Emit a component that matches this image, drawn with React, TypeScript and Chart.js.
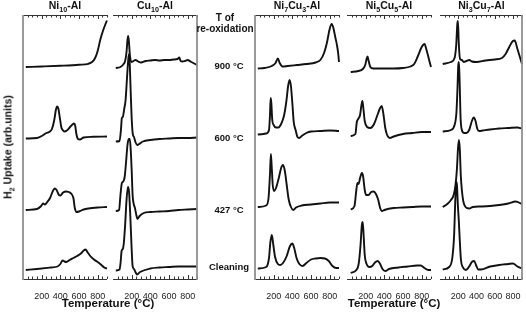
import React, { useEffect, useRef } from "react";
import { Chart, registerables } from "chart.js";
Chart.register(...registerables);

type Pt = [number, number];

// ---- axis / labels ----
const TEMP_LABELS = [200, 400, 600, 800];
const X_MIN = 0;
const X_MAX = 900;
const TICK_STEP = 50;
const ROW_LABELS = ["900 °C", "600 °C", "427 °C", "Cleaning"];
// vertical stacking offsets of the four rows (arb. units)
const ROW_OFFSETS = [21.2, 14.1, 6.9, 0.9];
const Y_MAX = 26.4;

// ---- Ni10-Al ----
const ni10_900: Pt[] = [[30,0],[200,0.05],[400,0.12],[600,0.22],[700,0.32],[740,0.5],[770,0.85],[800,1.6],[830,2.8],[860,3.7],[880,4.2],[900,4.65]];
const ni10_600: Pt[] = [[30,-0.05],[150,0.0],[210,0.25],[250,0.5],[280,0.6],[310,0.9],[335,1.8],[352,2.8],[366,3.15],[380,2.9],[395,2.0],[410,1.1],[425,0.8],[445,0.65],[470,0.75],[500,1.05],[530,1.35],[548,1.45],[560,1.2],[572,0.4],[590,-0.1],[610,-0.15],[650,0.05],[750,0.12],[900,0.15]];
const ni10_427: Pt[] = [[30,0],[150,0.1],[195,0.4],[215,0.65],[235,0.55],[260,0.8],[290,1.2],[320,1.9],[340,2.15],[360,2.0],[385,1.5],[400,1.45],[430,1.75],[460,1.85],[490,1.8],[520,1.6],[540,1.2],[555,0.2],[575,-0.2],[600,-0.15],[650,0.05],[700,0.15],[800,0.25],[900,0.3]];
const ni10_cln: Pt[] = [[30,0],[150,0.1],[300,0.25],[370,0.35],[400,0.6],[425,0.95],[445,0.85],[465,0.8],[500,1.0],[540,1.2],[580,1.4],[620,1.65],[650,1.95],[670,2.05],[690,1.8],[720,1.4],[760,1.05],[800,0.8],[840,0.5],[870,0.25],[900,0.15]];

// ---- Cu10-Al ----
const cu10_900: Pt[] = [[30,-0.1],[80,0.0],[110,0.25],[130,0.6],[145,1.5],[155,2.7],[162,3.1],[170,2.6],[180,1.3],[195,0.5],[220,0.6],[240,0.7],[270,0.55],[300,0.45],[350,0.6],[400,0.65],[450,0.7],[500,0.65],[550,0.7],[600,0.7],[650,0.75],[690,0.8],[710,0.95],[725,0.6],[745,0.55],[770,0.6],[800,0.7],[830,0.55],[870,0.35],[900,0.2]];
const cu10_600: Pt[] = [[30,-0.35],[70,-0.3],[85,0.8],[95,2.0],[105,2.1],[120,2.9],[135,3.8],[150,6.0],[163,7.8],[172,8.4],[180,7.3],[190,4.5],[200,2.0],[212,0.4],[225,0.1],[240,-0.4],[260,-0.7],[280,-0.6],[320,-0.35],[400,-0.2],[500,-0.1],[600,-0.05],[700,0.0],[800,0.0],[900,0.05]];
const cu10_427: Pt[] = [[30,-0.1],[65,0.0],[80,1.5],[95,2.7],[110,2.85],[125,3.3],[140,4.8],[155,6.5],[168,7.1],[180,7.1],[190,6.0],[200,4.0],[210,1.5],[222,0.6],[235,0.2],[250,-0.5],[262,-0.9],[285,-0.6],[330,-0.3],[400,-0.2],[500,-0.15],[600,-0.1],[700,0.0],[800,0.05],[900,0.1]];
const cu10_cln: Pt[] = [[30,-0.05],[70,0.05],[82,0.8],[92,1.9],[105,2.1],[115,2.6],[130,4.5],[145,7.0],[160,8.3],[172,7.8],[185,5.5],[198,2.5],[210,0.4],[225,0.1],[240,-0.2],[258,-0.45],[290,-0.2],[400,0.15],[500,0.25],[600,0.3],[700,0.35],[800,0.35],[900,0.35]];

// ---- Ni7Cu3-Al ----
const ni7_900: Pt[] = [[30,-0.15],[100,-0.1],[180,0.1],[220,0.4],[245,0.85],[265,0.4],[295,0.05],[350,0.1],[450,0.2],[550,0.3],[650,0.45],[700,0.7],[740,1.4],[770,2.4],[800,3.8],[822,4.3],[840,3.9],[860,3.0],[880,2.1],[892,1.3],[900,0.5]];
const ni7_600: Pt[] = [[30,0.35],[120,0.45],[150,0.8],[160,2.2],[168,4.0],[175,3.5],[185,1.8],[200,1.3],[225,1.05],[250,1.05],[280,1.4],[310,2.2],[335,3.6],[355,5.2],[370,5.8],[385,5.2],[400,3.5],[415,1.6],[435,0.8],[455,0.1],[475,0.0],[500,0.2],[550,0.5],[600,0.65],[700,0.7],[800,0.75],[900,0.7]];
const ni7_427: Pt[] = [[30,0.3],[120,0.45],[145,1.2],[160,3.5],[170,5.6],[178,4.5],[190,2.5],[205,1.9],[225,2.2],[255,3.2],[280,4.2],[300,4.5],[320,3.9],[340,2.5],[360,1.1],[385,0.3],[410,0.0],[440,0.25],[500,0.45],[600,0.55],[700,0.65],[800,0.75],[900,0.75]];
const ni7_cln: Pt[] = [[30,0.15],[120,0.3],[150,1.2],[165,2.8],[180,3.5],[195,2.6],[215,1.3],[245,0.6],[270,0.5],[300,0.7],[340,1.4],[375,2.4],[400,2.65],[420,2.2],[445,1.2],[475,0.6],[510,0.4],[550,0.7],[600,1.05],[650,1.15],[700,1.2],[750,1.15],[790,0.9],[830,0.4],[870,0.2],[900,0.2]];

// ---- Ni5Cu5-Al ----
const ni5_900: Pt[] = [[40,-0.5],[120,-0.4],[170,-0.2],[195,0.2],[210,0.8],[220,1.05],[232,0.6],[250,0.0],[280,-0.15],[400,-0.15],[500,-0.15],[600,-0.1],[680,0.05],[720,0.3],[760,1.1],[800,2.0],[830,2.3],[855,1.6],[880,0.7],[900,0.0]];
const ni5_600: Pt[] = [[40,0.2],[90,0.4],[105,1.6],[120,1.9],[140,2.3],[155,3.3],[165,3.7],[175,3.0],[190,1.7],[215,1.1],[250,1.0],[290,1.4],[330,2.4],[355,3.0],[372,3.2],[390,2.4],[410,1.0],[430,0.3],[460,0.0],[500,0.15],[600,0.4],[700,0.5],[800,0.6],[900,0.6]];
const ni5_427: Pt[] = [[40,0.05],[80,0.4],[100,2.0],[112,2.7],[125,2.6],[140,3.2],[160,3.7],[172,3.4],[190,2.0],[205,1.5],[230,1.5],[260,1.8],[285,1.85],[310,1.6],[335,1.0],[355,0.2],[375,-0.1],[400,0.0],[500,0.2],[600,0.25],[700,0.3],[800,0.35],[900,0.35]];
const ni5_cln: Pt[] = [[40,-0.3],[100,0.0],[125,0.6],[145,2.5],[160,4.6],[168,4.8],[178,3.5],[190,1.5],[210,0.6],[240,0.3],[270,0.4],[300,0.75],[330,0.9],[355,0.6],[380,0.1],[410,-0.1],[450,0.1],[550,0.25],[650,0.35],[750,0.45],[790,0.45],[830,0.2],[870,0.0],[900,0.0]];

// ---- Ni3Cu7-Al ----
const ni3_900: Pt[] = [[30,0.3],[120,0.5],[160,0.9],[178,2.2],[190,4.3],[197,4.6],[206,2.4],[220,0.8],[240,0.7],[260,0.5],[290,0.6],[320,0.7],[350,0.55],[400,0.5],[500,0.65],[600,0.75],[680,0.9],[720,1.3],[760,2.0],[800,2.6],[820,2.65],[850,1.8],[880,0.9],[900,0.3]];
const ni3_600: Pt[] = [[30,0.65],[120,0.8],[160,1.3],[180,2.5],[192,5.0],[200,7.2],[208,7.6],[216,5.5],[226,2.0],[240,0.8],[265,0.5],[290,0.5],[320,0.8],[350,1.7],[370,2.05],[390,1.7],[410,0.9],[430,0.7],[470,0.75],[550,0.85],[650,0.95],[750,1.0],[850,1.05],[900,0.95]];
const ni3_427: Pt[] = [[30,0.3],[80,0.6],[120,1.0],[150,1.5],[170,2.5],[185,4.0],[198,6.2],[208,7.0],[218,6.0],[228,3.5],[240,2.0],[255,0.9],[280,0.3],[320,0.15],[360,0.3],[450,0.35],[550,0.4],[650,0.5],[750,0.65],[830,0.85],[900,0.6]];
const ni3_cln: Pt[] = [[30,0.05],[100,0.3],[135,1.2],[155,3.5],[168,7.0],[178,8.8],[186,8.5],[196,6.5],[206,5.0],[218,2.8],[230,1.0],[250,0.3],[285,0.0],[320,0.35],[355,0.85],[375,0.9],[395,0.5],[420,0.05],[450,0.05],[550,0.35],[650,0.5],[750,0.6],[800,0.65],[850,0.35],[900,0.15]];

const FONT = "'Liberation Sans', Arial, Helvetica, sans-serif";
const W = 526;
const H = 312;

type PanelDef = {
  key: string;
  title: React.ReactNode;
  series: Pt[][];
  left: number;
  right: number;
  frameLeft?: boolean;
  frameRight?: boolean;
};

const Sub = ({ children }: { children: React.ReactNode }) => (
  <span style={{ fontSize: "0.68em", position: "relative", top: "0.38em" }}>{children}</span>
);

const PANELS: PanelDef[] = [
  { key: "ni10", title: <>Ni<Sub>10</Sub>-Al</>, series: [ni10_900, ni10_600, ni10_427, ni10_cln], left: 23, right: 107, frameLeft: true },
  { key: "cu10", title: <>Cu<Sub>10</Sub>-Al</>, series: [cu10_900, cu10_600, cu10_427, cu10_cln], left: 113, right: 197, frameRight: true },
  { key: "ni7", title: <>Ni<Sub>7</Sub>Cu<Sub>3</Sub>-Al</>, series: [ni7_900, ni7_600, ni7_427, ni7_cln], left: 255, right: 339, frameLeft: true },
  { key: "ni5", title: <>Ni<Sub>5</Sub>Cu<Sub>5</Sub>-Al</>, series: [ni5_900, ni5_600, ni5_427, ni5_cln], left: 347, right: 431 },
  { key: "ni3", title: <>Ni<Sub>3</Sub>Cu<Sub>7</Sub>-Al</>, series: [ni3_900, ni3_600, ni3_427, ni3_cln], left: 440, right: 523, frameRight: true },
];

const CHART_TOP = 15;
const CHART_BOTTOM = 279;
const AXIS_H = 20;

function Panel({ def }: { def: PanelDef }) {
  const ref = useRef<HTMLCanvasElement>(null);
  useEffect(() => {
    const canvas = ref.current;
    if (!canvas) return;
    const framePlugin = {
      id: "frame_" + def.key,
      afterDraw(chart: any) {
        const { ctx, chartArea: a, scales } = chart;
        const xs = scales.x;
        ctx.save();
        ctx.strokeStyle = "#333";
        ctx.lineWidth = 1;
        ctx.beginPath();
        ctx.moveTo(a.left, a.bottom + 0.5);
        ctx.lineTo(a.right, a.bottom + 0.5);
        ctx.moveTo(a.left, a.top + 0.5);
        ctx.lineTo(a.right, a.top + 0.5);
        for (let v = X_MIN + TICK_STEP; v <= X_MAX; v += TICK_STEP) {
          const px = Math.round(xs.getPixelForValue(v)) + 0.5;
          const len = v % 200 === 0 ? 4 : 2.5;
          ctx.moveTo(px, a.bottom);
          ctx.lineTo(px, a.bottom - len);
          ctx.moveTo(px, a.top);
          ctx.lineTo(px, a.top + len);
        }
        ctx.stroke();
        ctx.strokeStyle = "#8f8f8f";
        ctx.lineWidth = 1.8;
        ctx.beginPath();
        if (def.frameLeft) {
          ctx.moveTo(a.left, a.top);
          ctx.lineTo(a.left, a.bottom + 1);
        }
        if (def.frameRight) {
          ctx.moveTo(a.right, a.top);
          ctx.lineTo(a.right, a.bottom + 1);
        }
        ctx.stroke();
        ctx.restore();
      },
    };
    const chart = new Chart(canvas, {
      type: "line",
      data: {
        datasets: def.series.map((s, i) => ({
          label: ROW_LABELS[i],
          data: s.map(([t, h]) => ({ x: t, y: h + ROW_OFFSETS[i] })),
          borderColor: "#111",
          borderWidth: 1.9,
          pointRadius: 0,
          fill: false,
          cubicInterpolationMode: "monotone" as const,
          clip: false as any,
        })),
      },
      options: {
        responsive: false,
        animation: false,
        devicePixelRatio: 1,
        events: [],
        layout: { padding: { left: def.left, right: W - def.right, top: CHART_TOP, bottom: H - CHART_BOTTOM - AXIS_H } },
        plugins: { legend: { display: false }, tooltip: { enabled: false }, title: { display: false } },
        scales: {
          x: {
            type: "linear",
            min: X_MIN,
            max: X_MAX,
            grid: { display: false },
            border: { display: false },
            ticks: {
              stepSize: TICK_STEP,
              autoSkip: false,
              maxRotation: 0,
              minRotation: 0,
              padding: 4,
              color: "#222",
              font: { family: FONT, size: 9 },
              callback: (v: any) => (TEMP_LABELS.includes(Number(v)) ? String(v) : ""),
            },
            afterFit: (s: any) => {
              s.height = AXIS_H;
            },
          },
          y: { display: false, min: 0, max: Y_MAX },
        },
      },
      plugins: [framePlugin],
    } as any);
    return () => chart.destroy();
  }, []);
  return <canvas ref={ref} width={W} height={H} style={{ position: "absolute", left: 0, top: 0, width: W, height: H }} />;
}

function Txt({ x, y, size, children, rotate }: { x: number; y: number; size: number; children: React.ReactNode; rotate?: boolean }) {
  return (
    <div
      style={{
        position: "absolute",
        left: x,
        top: y,
        transform: `translate(-50%, -50%)${rotate ? " rotate(-90deg)" : ""}`,
        fontFamily: FONT,
        fontWeight: "bold",
        fontSize: size,
        color: "#111",
        whiteSpace: "nowrap",
        lineHeight: 1,
      }}
    >
      {children}
    </div>
  );
}

const ROW_LABEL_Y = [66, 138, 210, 267];

export default function App() {
  return (
    <div style={{ position: "absolute", left: 0, top: 0, width: W, height: H, background: "#fff", overflow: "hidden" }}>
      {PANELS.map((p) => (
        <Panel key={p.key} def={p} />
      ))}
      {PANELS.map((p) => (
        <Txt key={"t" + p.key} x={(p.left + p.right) / 2} y={6} size={10.5}>
          {p.title}
        </Txt>
      ))}
      <Txt x={225} y={18} size={10}>T of</Txt>
      <Txt x={225} y={29} size={10}>re-oxidation</Txt>
      {ROW_LABELS.map((l, i) => (
        <Txt key={l} x={229} y={ROW_LABEL_Y[i]} size={9.5}>
          {l}
        </Txt>
      ))}
      <Txt x={108} y={304} size={11.5}>Temperature (°C)</Txt>
      <Txt x={394} y={304} size={11.5}>Temperature (°C)</Txt>
      <Txt x={8} y={147} size={10.5} rotate>
        H<Sub>2</Sub> Uptake (arb.units)
      </Txt>
    </div>
  );
}
